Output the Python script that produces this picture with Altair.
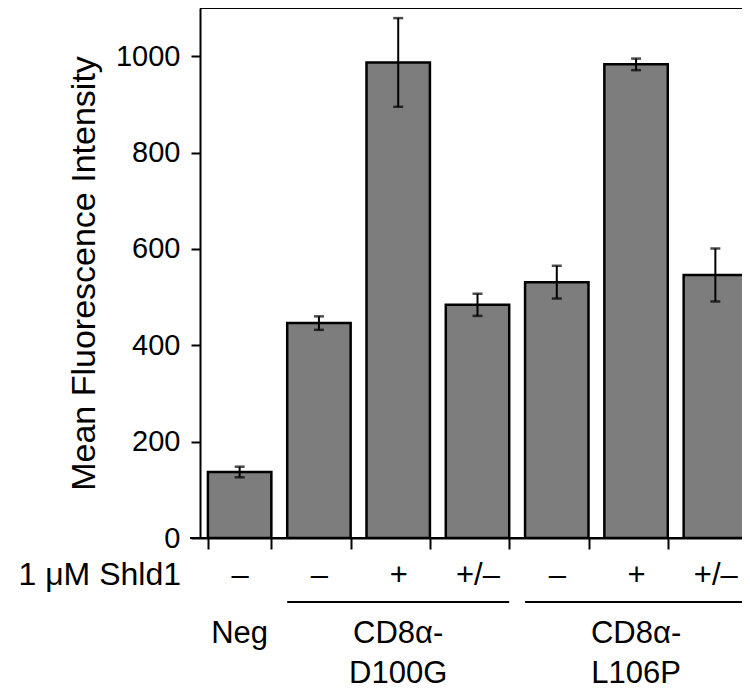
import altair as alt
import pandas as pd

# Data
keys = ["b1", "b2", "b3", "b4", "b5", "b6", "b7"]
shld1 = ["–", "–", "+", "+/–", "–", "+", "+/–"]
means = [137, 446, 987, 484, 531, 983, 546]
errors = [11, 14, 92, 23, 34, 12, 55]

group_names = ["Neg", "CD8α-\nD100G", "CD8α-\nL106P"]
group_center_key = ["b1", "b3", "b6"]
line_start_key = ["b2", "b5"]
line_end_key = ["b4", "b7"]

df = pd.DataFrame({
    "key": keys,
    "shld1": shld1,
    "mean": means,
    "lo": [m - e for m, e in zip(means, errors)],
    "hi": [m + e for m, e in zip(means, errors)],
})
label_map = dict(zip(keys, shld1))
label_expr = " : ".join(
    [f"datum.value == '{k}' ? '{v}'" for k, v in label_map.items()]
) + " : ''"

FONT = "Liberation Sans"

x_scale = alt.Scale(domain=keys, range=[0, 555], paddingInner=0.2, paddingOuter=0.1)
y_scale = alt.Scale(domain=[0, 1100], nice=False)

x_axis = alt.Axis(
    title=None, labelExpr=label_expr, labelAngle=0, tickBand="extent",
    tickSize=11, tickWidth=2, tickColor="black", domainColor="black",
    domainWidth=2, labelFontSize=31, labelFont=FONT, labelColor="black",
    labelPadding=11,
)
y_axis = alt.Axis(
    title="Mean Fluorescence Intensity", values=[0, 200, 400, 600, 800, 1000],
    format="d",
    tickSize=9, tickWidth=2, tickColor="black", domainColor="black",
    domainWidth=2, labelFontSize=29, labelFont=FONT, labelColor="black",
    labelPadding=11, titleFontSize=34, titleFont=FONT, titleFontWeight="normal",
    titleColor="black", titlePadding=14, grid=False,
)

base = alt.Chart(df)

bars = base.mark_bar(color="#7d7d7d", stroke="black", strokeWidth=2.5, clip=True).encode(
    x=alt.X("key:N", scale=x_scale, axis=x_axis, sort=keys),
    y=alt.Y("mean:Q", scale=y_scale, axis=y_axis),
)

err = base.mark_rule(color="black", strokeWidth=2, clip=True).encode(
    x=alt.X("key:N", sort=keys), y="lo:Q", y2="hi:Q"
)
cap_lo = base.mark_tick(color="black", thickness=2.5, size=10, orient="horizontal", clip=True).encode(
    x=alt.X("key:N", sort=keys), y="lo:Q"
)
cap_hi = base.mark_tick(color="black", thickness=2.5, size=10, orient="horizontal", clip=True).encode(
    x=alt.X("key:N", sort=keys), y="hi:Q"
)

top_line = alt.Chart(pd.DataFrame({"v": [1100]})).mark_rule(
    color="black", strokeWidth=2
).encode(y="v:Q")

x_base_line = alt.Chart(pd.DataFrame({"v": [0]})).mark_rule(
    color="black", strokeWidth=2
).encode(y="v:Q", x=alt.value(-10), x2=alt.value(542))

shld_label = alt.Chart(pd.DataFrame({"t": ["1 μM Shld1"]})).mark_text(
    align="right", baseline="middle", fontSize=32, font=FONT, color="black"
).encode(text="t:N", x=alt.value(-19), y=alt.value(567))

groups_df = pd.DataFrame({"key": group_center_key, "name": group_names})
group_text = alt.Chart(groups_df).mark_text(
    align="center", baseline="top", fontSize=31, font=FONT, color="black",
    lineBreak="\n", lineHeight=40,
).encode(
    x=alt.X("key:N", sort=keys), text="name:N", y=alt.value(611)
)

lines_df = pd.DataFrame({"k1": line_start_key, "k2": line_end_key})
group_lines = alt.Chart(lines_df).mark_rule(color="black", strokeWidth=2).encode(
    x=alt.X("k1:N", sort=keys, bandPosition=0),
    x2=alt.X2("k2:N", bandPosition=1),
    y=alt.value(594),
)

chart = alt.layer(
    top_line, bars, x_base_line, err, cap_lo, cap_hi, shld_label, group_text, group_lines
).properties(
    width=542, height=530,
    autosize=alt.AutoSizeParams(type="none"),
    padding={"left": 192, "top": 0, "right": 0, "bottom": 155},
).configure_view(stroke=None).configure(background="white")

chart.save("out.html", embed_options={"renderer": "svg", "actions": False})
